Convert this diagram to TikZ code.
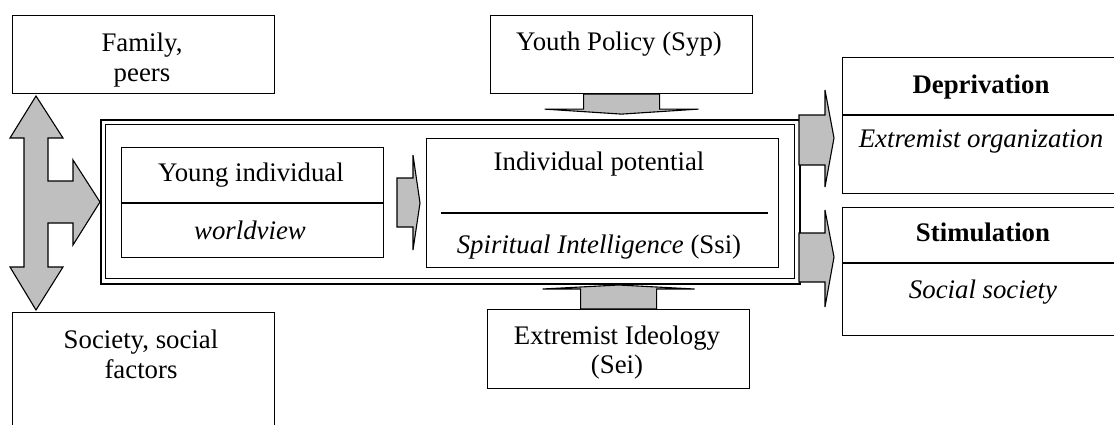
\documentclass[tikz,border=0pt]{standalone}
\usepackage{fontspec}
\setmainfont{Liberation Serif}
\usetikzlibrary{positioning}

\begin{document}
\begin{tikzpicture}
    [
    x=1pt, y=-1pt,
    box/.style={draw, line width=1.1pt, anchor=north west, inner sep=0pt},
    txt/.style={anchor=base, inner sep=0pt, font=\fontsize{26.8}{30}\selectfont},
    fat/.style={draw, line width=1.1pt, fill=black!25, line join=miter},
    ]
    \useasboundingbox (0,0) rectangle (1114,424);

    \node (main) at (100,119) [box, line width=2pt, minimum width=699pt, minimum height=164pt] {};
    \node (frame) at (105,124) [box, minimum width=689pt, minimum height=154pt] {};

    \node (fam) at (12,15) [box, minimum width=262pt, minimum height=78pt] {};
    \node (soc) at (12,312) [box, minimum width=262pt, minimum height=130pt] {};
    \node (yp) at (490,15) [box, minimum width=262pt, minimum height=78pt] {};
    \node (sei) at (487,309) [box, minimum width=262pt, minimum height=79pt] {};
    \node (young) at (121,147) [box, minimum width=262pt, minimum height=110pt] {};
    \node (pot) at (426,138) [box, minimum width=352pt, minimum height=129pt] {};
    \node (dep) at (842,57) [box, minimum width=280pt, minimum height=136pt] {};
    \node (stim) at (842,207) [box, minimum width=280pt, minimum height=128pt] {};

    \draw [line width=1.1pt] (young.west |- 0,203) -- (young.east |- 0,203);
    \draw [line width=1.1pt] (441,213) -- (768,213);
    \draw [line width=1.1pt] (dep.west |- 0,115) -- (dep.east |- 0,115);
    \draw [line width=1.1pt] (stim.west |- 0,263) -- (stim.east |- 0,263);

    \node (famA) at (142,51) [txt] {Family,};
    \node (famB) at (142,81) [txt] {peers};
    \node (socA) at (141,348) [txt] {Society, social};
    \node (socB) at (141,378) [txt] {factors};
    \node (ypA) at (619,50) [txt] {Youth Policy (Syp)};
    \node (seiA) at (617,344) [txt] {Extremist Ideology};
    \node (seiB) at (617,373) [txt] {(Sei)};
    \node (youngA) at (251,181) [txt] {Young individual};
    \node (youngB) at (250,239) [txt] {\textit{worldview}};
    \node (potA) at (599,170) [txt] {Individual potential};
    \node (potB) at (599,253) [txt] {\textit{Spiritual Intelligence} (Ssi)};
    \node (depA) at (981,93) [txt] {\textbf{Deprivation}};
    \node (depB) at (981,147) [txt] {\textit{Extremist organization}};
    \node (stimA) at (983,241) [txt] {\textbf{Stimulation}};
    \node (stimB) at (983,298) [txt] {\textit{Social society}};

    \draw [fat] (36,96) -- (63,138) -- (48,138) -- (48,181) -- (73,181) -- (73,160)
      -- (main.west) -- (73,245) -- (73,223) -- (48,223) -- (48,267) -- (63,267)
      -- (36,310) -- (10,267) -- (24,267) -- (24,138) -- (10,138) -- cycle;
    \draw [fat] (yp.south) ++(-38,0) -- ++(0,15) -- ++(-39,0) -- ++(77,5) -- ++(77,-5)
      -- ++(-39,0) -- ++(0,-15) -- cycle;
    \draw [fat] (sei.north) ++(-38,0) -- ++(0,-20) -- ++(-38,0) -- ++(76,-4) -- ++(76,4)
      -- ++(-38,0) -- ++(0,20) -- cycle;
    \draw [fat] (397,178) -- (413,178) -- (413,155) -- (420,203) -- (413,250) -- (413,227)
      -- (397,227) -- cycle;
    \draw [fat] (799,115) -- (825,115) -- (825,90) -- (834,138) -- (825,187) -- (825,165)
      -- (799,165) -- cycle;
    \draw [fat] (799,233) -- (825,233) -- (825,210) -- (834,257) -- (825,307) -- (825,282)
      -- (799,282) -- cycle;
  \end{tikzpicture}
\end{document}
